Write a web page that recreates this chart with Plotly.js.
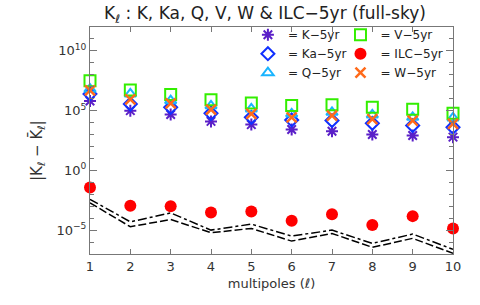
<!DOCTYPE html>
<html><head><meta charset="utf-8">
<script src="https://cdn.plot.ly/plotly-3.0.1.min.js"></script>
<style>html,body{margin:0;padding:0;background:#fff}#c{width:480px;height:305px}</style>
</head><body><div id="c"></div>
<script>
const ell = [1,2,3,4,5,6,7,8,9,10];
// log10 values
const logK   = [5.8, 5.0, 4.67, 4.1, 3.83, 3.42, 3.28, 3.0, 2.92, 2.78];
const logKa  = [6.4, 5.55, 5.28, 4.78, 4.44, 4.22, 4.17, 3.94, 3.75, 3.61];
const logQ   = [6.8, 6.4, 5.83, 5.4, 5.14, 4.72, 4.86, 4.64, 4.44, 4.39];
const logV   = [7.5, 6.72, 6.36, 5.92, 5.64, 5.42, 5.5, 5.28, 5.11, 4.78];
const logW   = [6.7, 5.94, 5.6, 5.08, 4.72, 4.44, 4.58, 4.28, 4.17, 3.89];
const logILC = [-1.44, -2.97, -3.0, -3.53, -3.44, -4.22, -3.67, -4.58, -3.83, -4.86];
const logDashDot = [-2.42, -4.31, -3.56, -5.0, -4.5, -5.5, -5.0, -6.11, -5.33, -6.61];
const logDash    = [-2.72, -4.72, -4.11, -5.22, -4.86, -5.92, -5.28, -6.44, -5.69, -6.94];
const tickVals = [1e-5, 1, 1e5, 1e10];
const tickText = ['10<sup>−5</sup>','10<sup>0</sup>','10<sup>5</sup>','10<sup>10</sup>'];
const names = ['= K−5yr','= Ka−5yr','= Q−5yr','= V−5yr','= ILC−5yr','= W−5yr'];

const p = a => a.map(v => Math.pow(10, v));
const font = 'DejaVu Sans, Liberation Sans, sans-serif';

const traces = [
  {name:names[0], legend:'legend',  y:p(logK), marker:{symbol:'asterisk-open', size:10, line:{color:'#5a1fc8', width:2}, color:'#5a1fc8'}},
  {name:names[1], legend:'legend',  y:p(logKa), marker:{symbol:'diamond-open', size:10, line:{color:'#1030ff', width:2}, color:'#1030ff'}},
  {name:names[2], legend:'legend',  y:p(logQ), marker:{symbol:'triangle-up-open', size:10, line:{color:'#18b4ff', width:2}, color:'#18b4ff'}},
  {name:names[3], legend:'legend2', y:p(logV), marker:{symbol:'square-open', size:11, line:{color:'#33ee00', width:2}, color:'#33ee00'}},
  {name:names[4], legend:'legend2', y:p(logILC), marker:{symbol:'circle', size:12, color:'#ff0000'}},
  {name:names[5], legend:'legend2', y:p(logW), marker:{symbol:'x-thin-open', size:10, line:{color:'#ff6a1a', width:2.5}, color:'#ff6a1a'}}
].map(t => Object.assign({x:ell, type:'scatter', mode:'markers', cliponaxis:false}, t));

traces.push({x:ell, y:p(logDashDot), type:'scatter', mode:'lines', showlegend:false,
  line:{color:'#000', width:1.5, dash:'dashdot'}});
traces.push({x:ell, y:p(logDash), type:'scatter', mode:'lines', showlegend:false,
  line:{color:'#000', width:1.5, dash:'8px,3px'}});

const axCommon = {showgrid:false, zeroline:false, showline:true, linecolor:'#777', linewidth:1,
  mirror:'ticks', ticks:'inside', tickcolor:'#777', tickfont:{family:font, size:13, color:'#333'}};
const legCommon = {orientation:'v', yanchor:'top', y:1.03, bgcolor:'rgba(0,0,0,0)',
  font:{family:font, size:12, color:'#222'}, itemwidth:30, tracegroupgap:0};

const layout = {
  width:480, height:305, paper_bgcolor:'#fff', plot_bgcolor:'#fff',
  margin:{l:90, r:27, t:27, b:51},
  title:{text:'K<sub>ℓ</sub> : K, Ka, Q, V, W & ILC−5yr (full-sky)', x:0.552, xanchor:'center', y:0.957, yanchor:'middle',
    font:{family:font, size:17, color:'#222'}},
  xaxis:Object.assign({}, axCommon, {range:[1,10], dtick:1, tick0:1, ticklen:5,
    title:{text:'multipoles (ℓ)', font:{family:font, size:13, color:'#333'}, standoff:6}}),
  yaxis:Object.assign({}, axCommon, {type:'log', range:[-7,12], tickvals:tickVals, ticktext:tickText, ticklen:7,
    minor:{dtick:1, tick0:0, ticks:'inside', ticklen:4, tickcolor:'#777'}}),
  annotations:[{text:'|K<sub>ℓ</sub> − K̄<sub>ℓ</sub>|', textangle:-90, xref:'paper', yref:'paper',
    x:-0.146, y:0.454, xanchor:'center', yanchor:'middle', showarrow:false,
    font:{family:font, size:15, color:'#333'}}],
  legend:Object.assign({}, legCommon, {x:0.435, xanchor:'left'}),
  legend2:Object.assign({}, legCommon, {x:0.69, xanchor:'left'}),
  showlegend:true
};
Plotly.newPlot('c', traces, layout, {displayModeBar:false, staticPlot:true});
</script></body></html>
